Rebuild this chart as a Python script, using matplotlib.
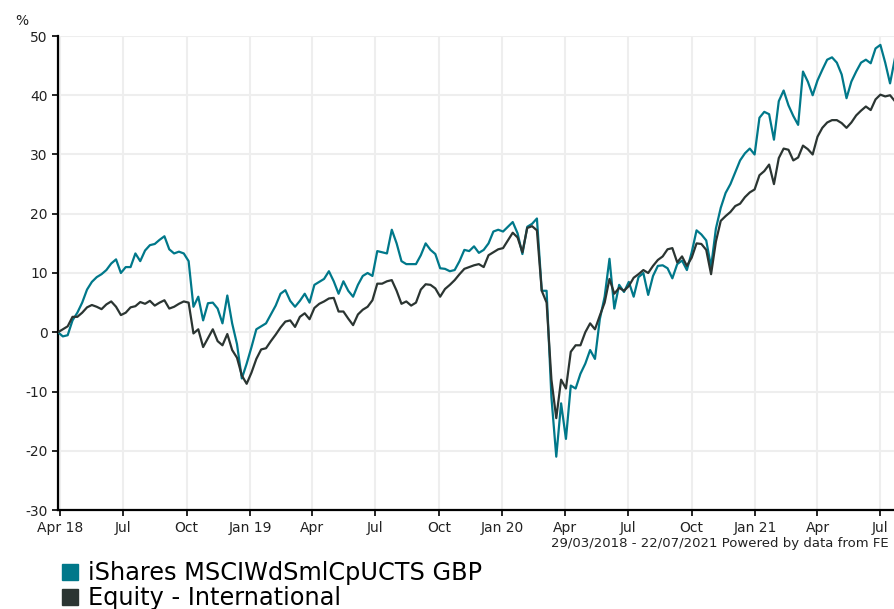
import matplotlib
matplotlib.use("Agg")
import matplotlib.pyplot as plt
from matplotlib.patches import Patch
import pandas as pd

# weekly dates, 29/03/2018 - 22/07/2021
dates = pd.date_range("2018-03-29", "2021-07-22", freq="7D")

ishares = [
    0, -0.7, -0.5, 2, 3.3, 5, 7.2, 8.5, 9.3, 9.8,
    10.5, 11.6, 12.3, 10, 11, 11, 13.3, 12, 13.8, 14.7,
    14.9, 15.6, 16.2, 14, 13.3, 13.6, 13.3, 12, 4.3, 6,
    2, 4.9, 5, 4, 1.5, 6.2, 1.5, -2, -7.8, -5.3,
    -2.5, 0.5, 1, 1.5, 3, 4.5, 6.5, 7.1, 5.3, 4.3,
    5.3, 6.5, 5, 8, 8.5, 9, 10.3, 8.6, 6.5, 8.6,
    7, 6, 8, 9.5, 10, 9.5, 13.7, 13.5, 13.3, 17.3,
    15, 12, 11.5, 11.5, 11.5, 13, 15, 13.9, 13.2, 10.8,
    10.7, 10.3, 10.5, 12, 13.9, 13.7, 14.5, 13.4, 13.9, 15,
    17, 17.3, 17, 17.8, 18.6, 16.7, 13.2, 17.8, 18.3, 19.2,
    7, 7, -11, -21, -12, -18, -9, -9.5, -7, -5.3,
    -3, -4.5, 2.2, 6, 12.4, 4, 8, 6.8, 8.5, 6,
    9.3, 10, 6.3, 9.5, 11.2, 11.3, 10.8, 9.1, 11.5, 12.1,
    10.5, 13.5, 17.2, 16.5, 15.5, 11, 17.5, 21, 23.5, 25,
    27, 29, 30.2, 31, 30, 36.2, 37.2, 36.8, 32.5, 39,
    40.8, 38.3, 36.5, 35, 44, 42.3, 40, 42.5, 44.3, 46,
    46.4, 45.5, 43.5, 39.5, 42.3, 44, 45.5, 46, 45.4, 47.9,
    48.5, 45.5, 42, 46.2,
]

equity = [
    0, 0.5, 1, 2.6, 2.6, 3.3, 4.2, 4.6, 4.3, 3.9,
    4.7, 5.2, 4.3, 2.9, 3.3, 4.2, 4.4, 5.1, 4.8, 5.3,
    4.5, 5, 5.4, 4, 4.3, 4.8, 5.2, 5, -0.2, 0.5,
    -2.5, -1, 0.5, -1.5, -2.2, -0.3, -3, -4.3, -7.3, -8.7,
    -6.8, -4.5, -2.9, -2.7, -1.5, -0.4, 0.8, 1.8, 2, 0.9,
    2.6, 3.2, 2.2, 4.1, 4.8, 5.2, 5.7, 5.8, 3.5, 3.5,
    2.3, 1.2, 3, 3.8, 4.3, 5.4, 8.2, 8.2, 8.6, 8.8,
    7, 4.8, 5.2, 4.5, 5, 7.2, 8.1, 8, 7.4, 6,
    7.3, 8, 8.8, 9.8, 10.7, 11, 11.3, 11.5, 11, 13,
    13.5, 14, 14.2, 15.5, 16.8, 16, 13.5, 17.6, 17.9, 17.2,
    7, 5, -8, -14.5, -8, -9.5, -3.3, -2.2, -2.2, 0,
    1.5, 0.5, 2.8, 5, 9, 6.5, 7.5, 7, 7.8, 9.2,
    9.8, 10.5, 10, 11.2, 12.2, 12.8, 14, 14.2, 11.8, 12.8,
    11.2, 12.6, 15, 14.9, 13.9, 9.8, 15.3, 18.8, 19.6, 20.3,
    21.3, 21.7, 22.8, 23.6, 24.1, 26.5, 27.2, 28.3, 25, 29.4,
    31, 30.8, 29, 29.5, 31.5, 30.9, 30, 33, 34.5, 35.4,
    35.8, 35.8, 35.3, 34.5, 35.4, 36.6, 37.4, 38.1, 37.5, 39.3,
    40.1, 39.8, 40, 39,
]

tick_dates = pd.date_range("2018-04-01", "2021-07-01", freq="QS-JAN")
tick_labels = ["Apr 18", "Jul", "Oct", "Jan 19", "Apr", "Jul", "Oct", "Jan 20",
               "Apr", "Jul", "Oct", "Jan 21", "Apr", "Jul"]
y_ticks = [-30, -20, -10, 0, 10, 20, 30, 40, 50]

names = ["iShares MSCIWdSmlCpUCTS GBP", "Equity - International"]
colors = ["#00788a", "#2b3532"]

plt.rcParams["axes.unicode_minus"] = False
plt.rcParams["font.family"] = ["DejaVu Sans"]

fig = plt.figure(figsize=(8.94, 6.09), dpi=100)
ax = fig.add_axes([58 / 894, 1 - 510 / 609, 1 - 58 / 894 + 0.001, (510 - 36) / 609])

ax.plot(dates, ishares, color=colors[0], lw=1.6, zorder=3)
ax.plot(dates, equity, color=colors[1], lw=1.6, zorder=4)

ax.set_xlim(dates[0], dates[-1])
ax.set_ylim(-30, 50)
ax.set_yticks(y_ticks)
ax.set_yticklabels([str(v) for v in y_ticks], fontsize=10)
ax.set_xticks(tick_dates)
ax.set_xticklabels(tick_labels, fontsize=10)

ax.grid(True, color="#eeeeee", lw=1.5, zorder=0)
for s in ["top", "right"]:
    ax.spines[s].set_visible(False)
ax.spines["left"].set_linewidth(1.6)
ax.spines["bottom"].set_linewidth(1.6)
ax.tick_params(axis="both", length=4, width=1.2, color="black", labelcolor="#222222")
ax.tick_params(axis="x", pad=4)

fig.text(15 / 894, 1 - 21 / 609, "%", fontsize=10, va="center", color="#222222")
fig.text(889 / 894, 1 - 543 / 609, "29/03/2018 - 22/07/2021 Powered by data from FE",
         fontsize=9.5, ha="right", va="center", color="#222222")

handles = [Patch(facecolor=c, edgecolor=c) for c in colors]
fig.legend(handles, names, loc="upper left", bbox_to_anchor=(62 / 894, 1 - 561 / 609),
           frameon=False, fontsize=17.3, handlelength=0.65, handleheight=0.65,
           handletextpad=0.45, labelspacing=0.05, borderpad=0, borderaxespad=0)

fig.savefig("out.png", dpi=100)
